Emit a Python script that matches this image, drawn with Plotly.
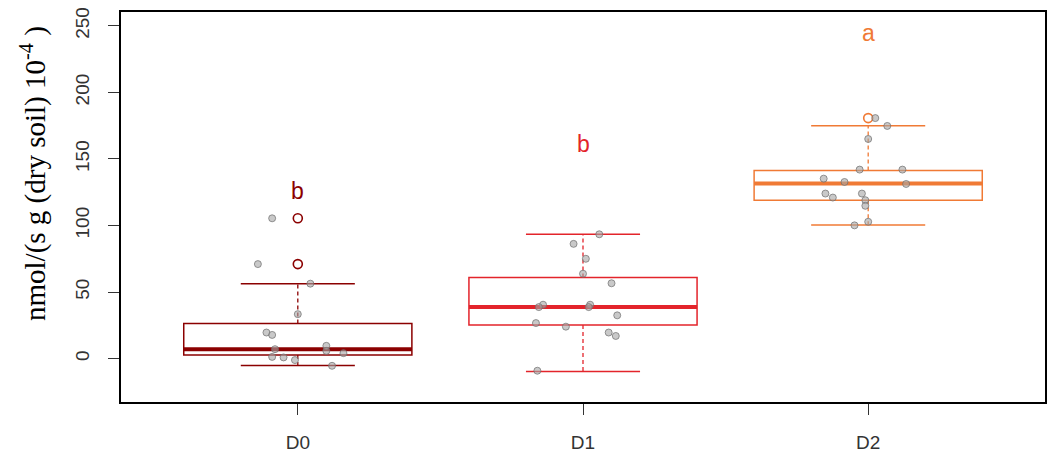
import plotly.graph_objects as go

# ---------------- data ----------------
groups = ["D0", "D1", "D2"]
positions = [1, 2, 3]
colors = ["#8B0000", "#E3242B", "#F07A35"]

q1 = [2.8, 25.2, 119.0]
median = [7.1, 38.7, 131.5]
q3 = [26.3, 61.0, 141.4]
lower_whisker = [-5.1, -9.6, 100.4]
upper_whisker = [56.3, 93.4, 175.0]
outliers = [[105.4, 71.0], [], [180.7]]

letters = ["b", "b", "a"]
letter_y = [126, 161, 245]

d0_values = [105.4, 71.0, 56.3, 33.4, 19.6, 17.8, 7.1, 9.6, 5.8, 4.1, 1.3, 0.9, -1.1, -5.4]
d0_jitter = [-0.09, -0.14, 0.044, 0.0, -0.11, -0.09, -0.08, 0.10, 0.10, 0.16, -0.09, -0.05, -0.01, 0.12]

d1_values = [93.4, 86.2, 75.0, 63.8, 56.6, 40.5, 38.7, 40.5, 38.7, 32.5, 26.7, 24.0, 19.6, 17.0, -9.1]
d1_jitter = [0.057, -0.033, 0.01, 0.0, 0.10, -0.14, -0.155, 0.025, 0.02, 0.12, -0.165, -0.06, 0.09, 0.115, -0.16]

d2_values = [180.7, 174.8, 165.0, 142.0, 142.0, 135.2, 132.7, 131.2, 124.0, 121.0, 124.0, 119.0, 114.8, 102.8, 100.1]
d2_jitter = [0.025, 0.067, 0.0, -0.03, 0.12, -0.156, -0.083, 0.133, -0.15, -0.124, -0.022, -0.01, -0.01, 0.0, -0.048]

values = [d0_values, d1_values, d2_values]
jitters = [d0_jitter, d1_jitter, d2_jitter]

y_ticks = [0, 50, 100, 150, 200, 250]

# ---------------- styling constants ----------------
BOX_WIDTH = 0.8
CAP_HALF = BOX_WIDTH / 4
MED_HALF = BOX_WIDTH / 2

fig = go.Figure()

for i, g in enumerate(groups):
    p = positions[i]
    c = colors[i]
    # box body
    fig.add_trace(go.Box(
        x=[p], q1=[q1[i]], median=[median[i]], q3=[q3[i]],
        lowerfence=[q1[i]], upperfence=[q3[i]],
        width=BOX_WIDTH, fillcolor="white",
        line=dict(color=c, width=1.5), boxpoints=False,
        whiskerwidth=0, showlegend=False, hoverinfo="skip",
    ))
    # dashed whiskers
    fig.add_trace(go.Scatter(
        x=[p, p, None, p, p],
        y=[q3[i], upper_whisker[i], None, q1[i], lower_whisker[i]],
        mode="lines", line=dict(color=c, width=1.3, dash="4px,3px"),
        showlegend=False, hoverinfo="skip",
    ))
    # whisker caps
    fig.add_trace(go.Scatter(
        x=[p - CAP_HALF, p + CAP_HALF, None, p - CAP_HALF, p + CAP_HALF],
        y=[upper_whisker[i], upper_whisker[i], None, lower_whisker[i], lower_whisker[i]],
        mode="lines", line=dict(color=c, width=1.5),
        showlegend=False, hoverinfo="skip",
    ))
    # thick median
    fig.add_trace(go.Scatter(
        x=[p - MED_HALF, p + MED_HALF], y=[median[i], median[i]],
        mode="lines", line=dict(color=c, width=4),
        showlegend=False, hoverinfo="skip",
    ))
    # outliers
    if outliers[i]:
        fig.add_trace(go.Scatter(
            x=[p] * len(outliers[i]), y=outliers[i], mode="markers",
            marker=dict(symbol="circle-open", size=9, color=c, line=dict(width=1.6, color=c)),
            showlegend=False, hoverinfo="skip",
        ))

# jittered raw points
for i, g in enumerate(groups):
    p = positions[i]
    fig.add_trace(go.Scatter(
        x=[p + j for j in jitters[i]], y=values[i], mode="markers",
        marker=dict(size=7, color="rgba(165,165,165,0.6)",
                    line=dict(width=1, color="rgba(110,110,110,0.7)")),
        showlegend=False, hoverinfo="skip",
    ))

# significance letters
for i, g in enumerate(groups):
    fig.add_annotation(
        x=positions[i], y=letter_y[i], text=letters[i], showarrow=False,
        font=dict(family="Liberation Sans, Arial, sans-serif", size=23, color=colors[i]),
        xanchor="center", yanchor="middle",
    )

# y-axis title
fig.add_annotation(
    xref="paper", yref="paper", x=-0.094, y=0.585,
    text="nmol/(s g (dry soil) 10<sup>-4</sup> )", textangle=-90, showarrow=False,
    font=dict(family="Liberation Serif, Times New Roman, serif", size=29, color="black"),
    xanchor="center", yanchor="middle",
)

fig.update_layout(
    width=1054, height=463,
    margin=dict(l=121, r=7, t=10, b=61),
    plot_bgcolor="white", paper_bgcolor="white",
    showlegend=False,
    xaxis=dict(
        range=[0.38, 3.62], tickmode="array", tickvals=positions, ticktext=groups,
        ticks="outside", ticklen=11, tickcolor="#333", tickwidth=1.3,
        showline=True, mirror=True, linecolor="black", linewidth=1.5,
        showgrid=False, zeroline=False, ticklabelstandoff=11,
        tickfont=dict(family="Liberation Sans, Arial, sans-serif", size=19, color="#333"),
    ),
    yaxis=dict(
        range=[-32.6, 260.4], tickmode="array", tickvals=y_ticks,
        ticktext=[str(t) for t in y_ticks], tickangle=-90,
        ticks="outside", ticklen=11, tickcolor="#333", tickwidth=1.3,
        showline=True, mirror=True, linecolor="black", linewidth=1.5,
        showgrid=False, zeroline=False, ticklabelstandoff=12,
        tickfont=dict(family="Liberation Sans, Arial, sans-serif", size=19, color="#333"),
    ),
)

fig.write_html("out.html")
